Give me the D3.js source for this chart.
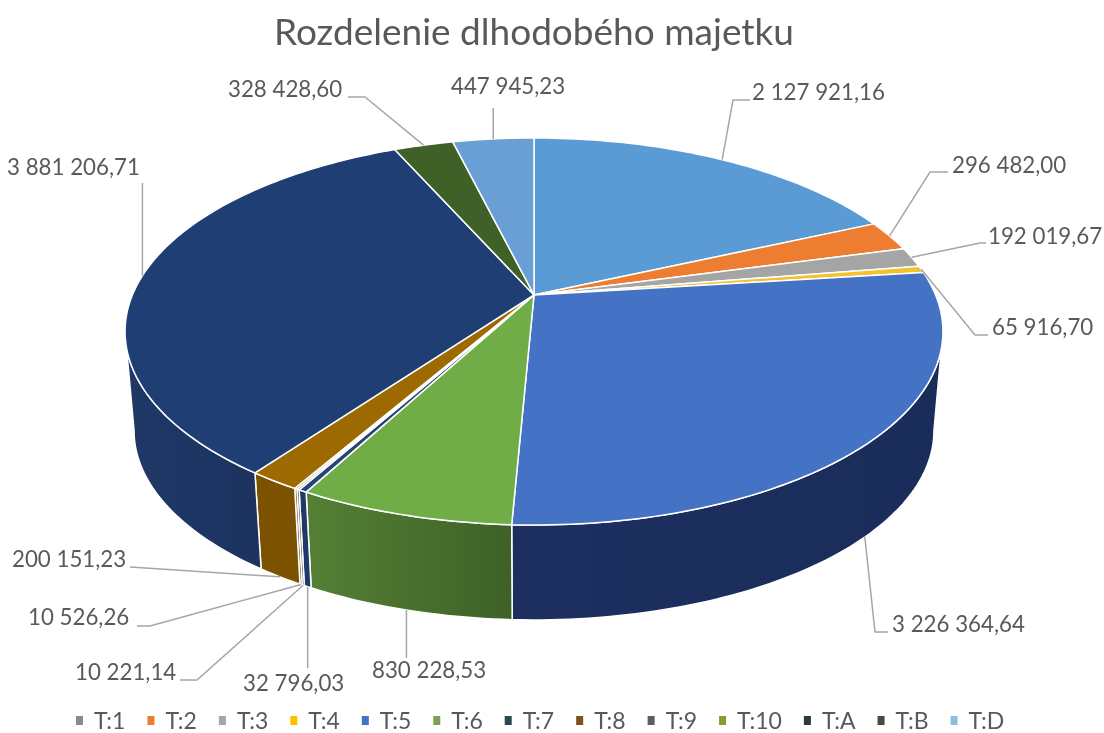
<!DOCTYPE html>
<html>
<head>
<meta charset="utf-8">
<script src="https://cdn.jsdelivr.net/npm/d3@7"></script>
<style>
  html, body { margin: 0; padding: 0; background: #fff; }
  svg { display: block; filter: blur(0.7px); }
  text { font-family: Lato, "Open Sans", sans-serif; fill: #595959; }
</style>
</head>
<body>
<svg id="chart"></svg>
<script>
const width = 1104;
const height = 733;

const title = "Rozdelenie dlhodobého majetku";
const categories = ["T:1", "T:2", "T:3", "T:4", "T:5", "T:6", "T:7", "T:8", "T:9", "T:10", "T:A", "T:B", "T:D"];
const values = [2127921.16, 296482.00, 192019.67, 65916.70, 3226364.64, 830228.53, 32796.03, 10221.14, 10526.26, 200151.23, 3881206.71, 328428.60, 447945.23];
const valueLabels = ["2 127 921,16", "296 482,00", "192 019,67", "65 916,70", "3 226 364,64", "830 228,53", "32 796,03", "10 221,14", "10 526,26", "200 151,23", "3 881 206,71", "328 428,60", "447 945,23"];

const topColors = ["#5b9bd5", "#ed7d31", "#a5a5a5", "#f2c230", "#4472c4", "#70ad47", "#264478", "#9e480e", "#636363", "#9c6a00", "#1f3e74", "#3f6127", "#6a9fd6"];
const legendColors = ["#7f8f99", "#ed7d31", "#a5a5a5", "#ffc000", "#4472c4", "#7f9f55", "#264a50", "#7f5217", "#555f66", "#8a9a30", "#2a3a40", "#3f4f3f", "#8fbde0"];
const wallLeft = ["#3a6a96", "#a5561f", "#707070", "#a88500", "#1c2f5e", "#548035", "#1d3a6a", "#6a330a", "#444444", "#7c5200", "#1f3866", "#2e451c", "#476f96"];
const wallRight = ["#3a6a96", "#a5561f", "#707070", "#a88500", "#1a2c5a", "#3f6127", "#1d3a6a", "#6a330a", "#444444", "#7c5200", "#1c3360", "#2e451c", "#476f96"];

// label position, elbow of the leader (null = straight)
const labelX = [752, 952, 988, 992, 892, 372, 243, 75, 28, 12, 7, 228, 451];
const labelY = [100, 173, 244, 335, 632, 678, 691, 680, 625, 567, 175, 97, 94];
const elbows = [[[733, 100], [750, 100]], [[930, 172], [948, 172]], [[980, 243], [986, 243]], [[975, 335], [988, 335]], [[875, 632], [888, 632]], [[null, 658]], [[null, 668]], [[197, 680], [180, 680]], [[150, 626], [137, 626]], [[130, 567]], [[null, 183]], [[365, 97], [348, 97]], [[null, 108]]];

// pie geometry: a tilted disc in perspective, apex not at the ellipse centre
const cx = 534, cy = 295;
const ax = 401.6, ay = 186.6, persp = 0.1886;
const depth = 100, shrink = 0.978;
const wallFrom = Math.acos(-persp), wallTo = 2 * Math.PI - wallFrom;

function topRim(t) {
  const k = 1 + persp * Math.cos(t);
  return [cx + ax * Math.sin(t) / k, cy - ay * Math.cos(t) / k];
}
function bottomRim(t) {
  const k = 1 + persp * Math.cos(t);
  return [cx + shrink * ax * Math.sin(t) / k, cy + depth - shrink * ay * Math.cos(t) / k];
}
function sample(a0, a1) {
  const n = Math.max(2, Math.ceil((a1 - a0) / 0.02));
  return d3.range(n + 1).map(i => a0 + (a1 - a0) * i / n);
}

const arcs = d3.pie().sort(null).value(d => d)(values);
const line = d3.line();

const svg = d3.select("#chart").attr("width", width).attr("height", height);
const defs = svg.append("defs");

svg.append("text")
  .attr("x", 534).attr("y", 45)
  .attr("text-anchor", "middle")
  .style("font-size", "37px")
  .text(title);

// side walls
const walls = svg.append("g");
arcs.forEach((d, i) => {
  const a0 = Math.max(d.startAngle, wallFrom);
  const a1 = Math.min(d.endAngle, wallTo);
  if (a1 <= a0) return;
  const ts = sample(a0, a1);
  const pts = ts.map(topRim).concat(ts.slice().reverse().map(bottomRim));
  const xs = pts.map(p => p[0]);
  const grad = defs.append("linearGradient")
    .attr("id", "wall" + i)
    .attr("gradientUnits", "userSpaceOnUse")
    .attr("x1", d3.min(xs)).attr("x2", d3.max(xs)).attr("y1", 0).attr("y2", 0);
  grad.append("stop").attr("offset", "0%").attr("stop-color", wallLeft[i]);
  grad.append("stop").attr("offset", "100%").attr("stop-color", wallRight[i]);
  walls.append("path")
    .attr("d", line(pts) + "Z")
    .attr("fill", "url(#wall" + i + ")")
    .attr("stroke", "#fff")
    .attr("stroke-width", 1.5)
    .attr("stroke-linejoin", "round");
});

// top face
svg.append("g").selectAll("path").data(arcs).enter().append("path")
  .attr("d", d => line([[cx, cy]].concat(sample(d.startAngle, d.endAngle).map(topRim))) + "Z")
  .attr("fill", (d, i) => topColors[i])
  .attr("stroke", "#fff")
  .attr("stroke-width", 1.5)
  .attr("stroke-linejoin", "round");

// leader lines
svg.append("g").selectAll("path").data(arcs).enter().append("path")
  .attr("d", (d, i) => {
    const mid = (d.startAngle + d.endAngle) / 2;
    const onWall = mid > wallFrom && mid < wallTo;
    const start = onWall ? bottomRim(mid) : topRim(mid);
    const rest = elbows[i].map(p => [p[0] === null ? start[0] : p[0], p[1]]);
    return line([start].concat(rest));
  })
  .attr("fill", "none")
  .attr("stroke", "#a6a6a6")
  .attr("stroke-width", 1.5);

// value labels
svg.append("g").selectAll("text").data(valueLabels).enter().append("text")
  .attr("x", (d, i) => labelX[i])
  .attr("y", (d, i) => labelY[i])
  .style("font-size", "22.3px")
  .text(d => d);

// legend
const legend = svg.append("g").attr("transform", "translate(0, 721)");
let legendX = 76;
categories.forEach((c, i) => {
  legend.append("rect")
    .attr("x", legendX).attr("y", -5)
    .attr("width", 7).attr("height", 9)
    .attr("fill", legendColors[i]);
  const t = legend.append("text")
    .attr("x", legendX + 18).attr("y", 8)
    .style("font-size", "23px")
    .text(c);
  legendX += 18 + t.node().getComputedTextLength() + 22;
});
</script>
</body>
</html>
